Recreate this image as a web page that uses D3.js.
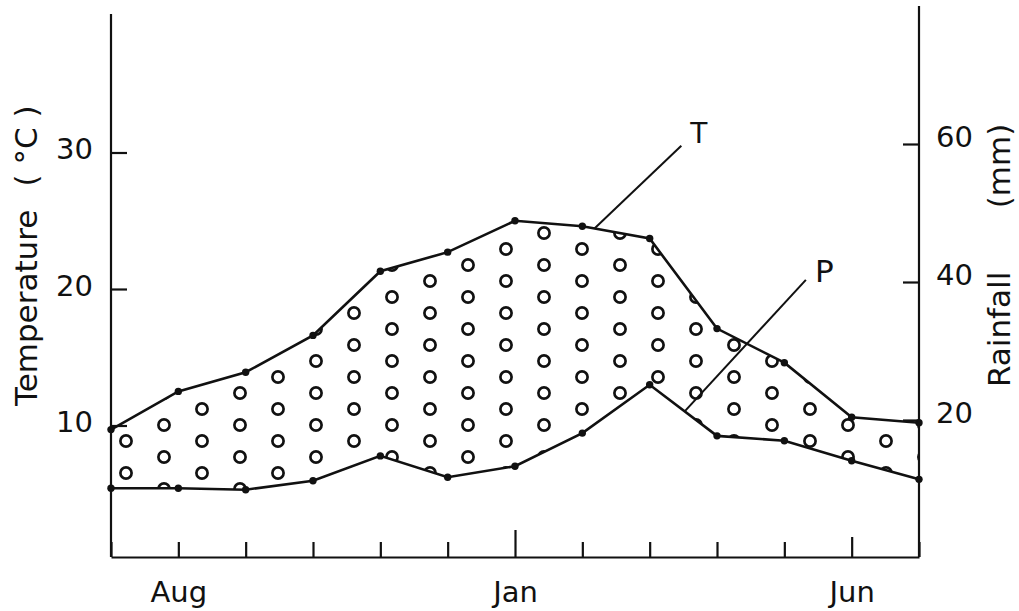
<!DOCTYPE html>
<html>
<head>
<meta charset="utf-8">
<title>Temperature and rainfall</title>
<script src="https://d3js.org/d3.v7.min.js"></script>
<style>
  body { margin: 0; background: #fff; }
  svg text { font-family: 'DejaVu Sans', sans-serif; fill: #111; }
  .axis path, .axis line { stroke: #111; stroke-width: 2.2; }
</style>
</head>
<body>
<script>
// months from July to July (southern hemisphere year)
var months = ['Jul', 'Aug', 'Sep', 'Oct', 'Nov', 'Dec', 'Jan', 'Feb', 'Mar', 'Apr', 'May', 'Jun', 'Jul'];
var labelledMonths = [1, 6, 11];
var temperature = [9.7, 12.5, 13.9, 16.6, 21.3, 22.7, 25.0, 24.6, 23.7, 17.1, 14.6, 10.6, 10.2];
var rainfall = [10.1, 10.1, 9.9, 11.2, 14.8, 11.7, 13.3, 18.1, 25.1, 17.7, 17.0, 14.1, 11.4];
var tempTicks = [10, 20, 30];
var rainTicks = [20, 40, 60];

var w = 1019, h = 611;
var base = 557;

var svg = d3.select('body').append('svg')
  .attr('width', w)
  .attr('height', h);

var x = d3.scaleLinear().domain([0, months.length - 1]).range([111, 919]);
var yT = d3.scaleLinear().domain([0, 40]).range([562, 16]);
var yR = d3.scaleLinear().domain([0, 80]).range([558, 6]);

// circle fill between the two curves
var pat = svg.append('defs').append('pattern')
  .attr('id', 'dots')
  .attr('patternUnits', 'userSpaceOnUse')
  .attr('width', 76)
  .attr('height', 32);
pat.selectAll('circle')
  .data([[12, 9], [50, 25]])
  .enter().append('circle')
  .attr('cx', d => d[0])
  .attr('cy', d => d[1])
  .attr('r', 5.6)
  .attr('fill', 'none')
  .attr('stroke', '#111')
  .attr('stroke-width', 2.7);

var idx = d3.range(months.length);

var area = d3.area()
  .x(i => x(i))
  .y0(i => yR(rainfall[i]))
  .y1(i => yT(temperature[i]));

svg.append('path')
  .attr('d', area(idx))
  .attr('fill', 'url(#dots)');

var lineT = d3.line().x(i => x(i)).y(i => yT(temperature[i]));
var lineR = d3.line().x(i => x(i)).y(i => yR(rainfall[i]));

[lineT, lineR].forEach(function (ln) {
  svg.append('path')
    .attr('d', ln(idx))
    .attr('fill', 'none')
    .attr('stroke', '#111')
    .attr('stroke-width', 2.6);
});

svg.append('g').selectAll('circle')
  .data(idx)
  .enter().append('circle')
  .attr('cx', i => x(i))
  .attr('cy', i => yT(temperature[i]))
  .attr('r', 3.7)
  .attr('fill', '#111');

svg.append('g').selectAll('circle')
  .data(idx)
  .enter().append('circle')
  .attr('cx', i => x(i))
  .attr('cy', i => yR(rainfall[i]))
  .attr('r', 3.7)
  .attr('fill', '#111');

// axes
var xAxis = d3.axisBottom(x)
  .tickValues(idx)
  .tickSizeInner(-16)
  .tickSizeOuter(0)
  .tickFormat(i => labelledMonths.indexOf(i) >= 0 ? months[i] : '');

var gx = svg.append('g')
  .attr('class', 'axis')
  .attr('transform', 'translate(0,' + base + ')')
  .call(xAxis);
gx.selectAll('.tick line')
  .attr('y2', i => i === 6 ? -27 : i === 11 ? -20 : -15);
gx.selectAll('.tick text')
  .attr('y', 45)
  .attr('dy', 0)
  .attr('font-size', 29);
gx.select('.domain').attr('stroke-width', 2.6);

var gl = svg.append('g')
  .attr('class', 'axis')
  .attr('transform', 'translate(' + x(0) + ',0)')
  .call(d3.axisLeft(yT).tickValues(tempTicks).tickSizeInner(-16).tickSizeOuter(0).tickPadding(18));
gl.select('.domain').attr('d', 'M0,' + base + 'V' + (yT(40) - 2));
gl.selectAll('.tick text')
  .attr('dy', '0.22em')
  .attr('font-size', 29);

var gr = svg.append('g')
  .attr('class', 'axis')
  .attr('transform', 'translate(' + x(12) + ',0)')
  .call(d3.axisRight(yR).tickValues(rainTicks).tickSizeInner(-16).tickSizeOuter(0).tickPadding(17));
gr.select('.domain').attr('d', 'M0,' + base + 'V' + yR(80));
gr.selectAll('.tick text')
  .attr('dy', '0.1em')
  .attr('font-size', 29);

// axis titles
svg.append('text')
  .attr('transform', 'translate(37,406) rotate(-90)')
  .attr('font-size', 31)
  .text('Temperature');
svg.append('text')
  .attr('transform', 'translate(37,146) rotate(-90)')
  .attr('text-anchor', 'middle')
  .attr('font-size', 31)
  .attr('xml:space', 'preserve')
  .text('( °C )');

svg.append('text')
  .attr('transform', 'translate(1010,387) rotate(-90)')
  .attr('font-size', 31)
  .text('Rainfall');
svg.append('text')
  .attr('transform', 'translate(1010,166) rotate(-90)')
  .attr('text-anchor', 'middle')
  .attr('font-size', 31)
  .text('(mm)');

// curve labels with leader lines
function along(series, t) {
  var i = Math.floor(t), f = t - i;
  return series[i] + (series[i + 1] - series[i]) * f;
}

var labels = [
  { name: 'T', at: 7.18, y0: yT(along(temperature, 7.18)), to: 8.47, y1: yT(30.5), dx: 9, dy: -3, size: 28 },
  { name: 'P', at: 8.52, y0: yR(along(rainfall, 8.52)), to: 10.32, y1: yR(40.3), dx: 9, dy: 2, size: 31 }
];

labels.forEach(function (d) {
  svg.append('line')
    .attr('x1', x(d.at)).attr('y1', d.y0)
    .attr('x2', x(d.to)).attr('y2', d.y1)
    .attr('stroke', '#111')
    .attr('stroke-width', 2);
  svg.append('text')
    .attr('x', x(d.to) + d.dx)
    .attr('y', d.y1 + d.dy)
    .attr('font-size', d.size)
    .text(d.name);
});
</script>
</body>
</html>
